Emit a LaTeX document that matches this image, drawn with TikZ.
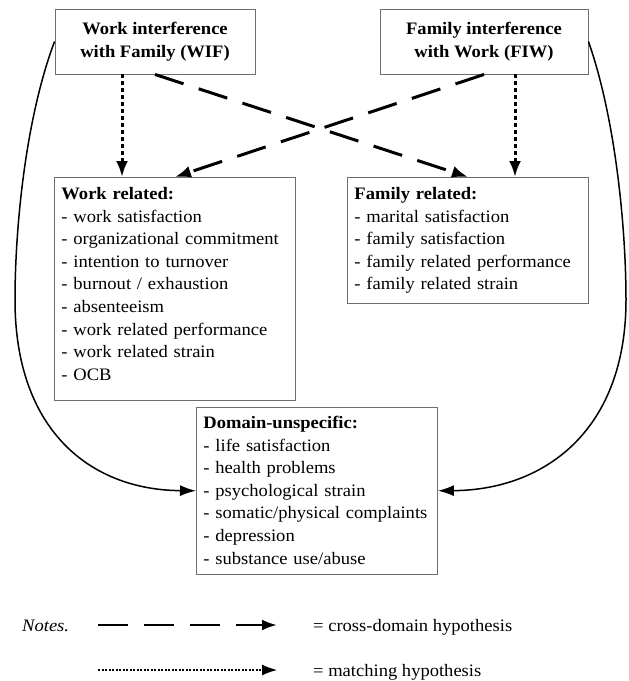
\documentclass[tikz,border=0pt]{standalone}
\usepackage{fontspec}
\setmainfont{Liberation Serif}[FakeStretch=1.06]
\usepackage{tikz}
\usepackage{xcolor}
\usetikzlibrary{arrows.meta, positioning, calc}
\definecolor{boxline}{RGB}{110, 110, 110}
\newcommand{\boxfont}{\fontsize{17.5}{22.6}\selectfont}
\newcommand{\toppad}[1]{\rule{0pt}{#1pt}}
\newcommand{\botpad}[1]{\rule[-#1pt]{0pt}{#1pt}}
\tikzset{
    srcbox/.style={draw=boxline, line width=0.9pt, minimum width=#1, minimum height=65pt, inner sep=0pt, align=center, font=\boxfont\bfseries},
    listbox/.style={draw=boxline, line width=0.9pt, anchor=north west, text width=227pt, inner xsep=7pt, inner ysep=0pt, align=left, font=\boxfont},
    cross/.style={line width=3pt, dash pattern=on 30pt off 16pt, -{Latex[length=16pt, width=12pt]}},
    match/.style={line width=3pt, dash pattern=on 4pt off 3pt, -{Latex[length=16pt, width=12pt]}},
    effect/.style={line width=1.5pt, -{Latex[length=16pt, width=11pt]}},
    legtext/.style={anchor=base west, inner sep=0pt, font=\boxfont}
}

\begin{document}
\begin{tikzpicture}[x=1pt, y=-1pt]
    \useasboundingbox (0,0) rectangle (629,681);

    % Sources
    \node[srcbox=200pt] (wif) at (155, 41.5) {Work interference\\with Family (WIF)};
    \node[srcbox=208pt] (fiw) at (484, 41.5) {Family interference\\with Work (FIW)};

    % Outcomes
    \node[listbox] (work) at (54, 177) {\toppad{22}\textbf{Work related:}\\
        - work satisfaction\\
        - organizational commitment\\
        - intention to turnover\\
        - burnout / exhaustion\\
        - absenteeism\\
        - work related performance\\
        - work related strain\\
        - OCB\botpad{20}};
    \node[listbox] (fam) at (347, 177) {\toppad{22}\textbf{Family related:}\\
        - marital satisfaction\\
        - family satisfaction\\
        - family related performance\\
        - family related strain\botpad{14}};
    \node[listbox] (dom) at (196, 407) {\toppad{21}\textbf{Domain-unspecific:}\\
        - life satisfaction\\
        - health problems\\
        - psychological strain\\
        - somatic/physical complaints\\
        - depression\\
        - substance use/abuse\botpad{10}};

    % Matching arrows
    \draw[match] ([xshift=-33pt]wif.south) -- ([xshift=-33pt]wif.south |- work.north);
    \draw[match] ([xshift=31pt]fiw.south) -- ([xshift=31pt]fiw.south |- fam.north);

    % Cross-domain arrows
    \draw[cross] (wif.south) -- (fam.north);
    \draw[cross] (fiw.south) -- (work.north);

    % Curved arrows
    \draw[effect] (wif.west) .. controls (25,120) and (15,230) .. (15,300)
        .. controls (15,430) and (90,490) .. (dom.west);
    \draw[effect] (fiw.east) .. controls (616,120) and (626,230) .. (626,300)
        .. controls (626,430) and (545,490) .. (dom.east);

    % Notes
    \node[legtext] (notes) at (22, 631) {\textit{Notes.}};
    \coordinate (cs) at (98, 625);
    \coordinate (ce) at (277, 625);
    \draw[line width=2.5pt, dash pattern=on 30pt off 16pt, -{Latex[length=15pt, width=11pt]}] (cs) -- (ce);
    \node[legtext] (crosstxt) at (313, 631) {= cross-domain hypothesis};
    \coordinate (ms) at (98, 670);
    \coordinate (me) at (277, 670);
    \draw[line width=1.3pt, dash pattern=on 2pt off 1.5pt, -{Latex[length=15pt, width=11pt]}] (ms) -- (me);
    \node[legtext] (matchtxt) at (313, 676) {= matching hypothesis};
\end{tikzpicture}
\end{document}
